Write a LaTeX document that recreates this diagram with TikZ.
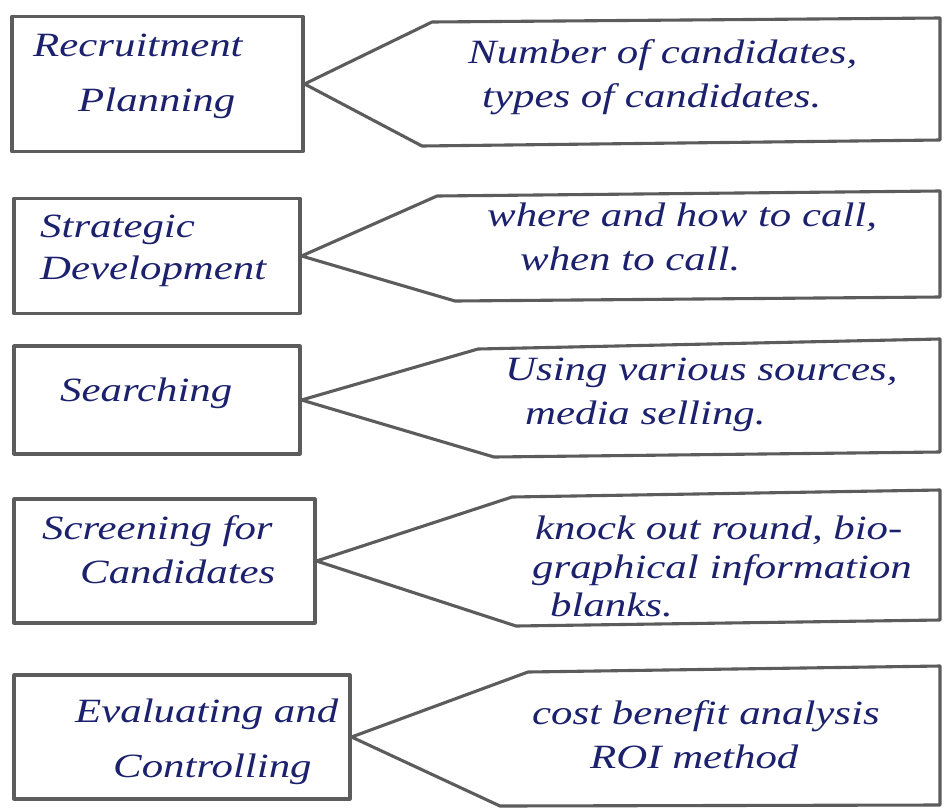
\documentclass[tikz,border=0pt]{standalone}
\usepackage{fontspec}
\newfontfamily\hand[FakeStretch=1.26]{Liberation Serif}
\begin{document}
\begin{tikzpicture}[x=1pt,y=-1pt,
  pencil/.style={draw=black!64, line width=3.1pt, line join=round, line cap=round},
  lbox/.style={pencil, inner sep=0pt},
  ink/.style={text=inkblue, font=\hand\itshape\fontsize{34}{44}\selectfont, align=left, inner sep=0pt, anchor=west},
]
\definecolor{inkblue}{HTML}{1C216E}
\useasboundingbox[fill=white] (0,0) rectangle (945,809);

% left-hand stage boxes
\node[lbox, minimum width=291pt, minimum height=135pt] (L1) at (157.5,84) {};
\node[lbox, minimum width=286pt, minimum height=115pt] (L2) at (157,256) {};
\node[lbox, minimum width=286pt, minimum height=108pt] (L3) at (157,400) {};
\node[lbox, minimum width=301pt, minimum height=124pt] (L4) at (164.5,561) {};
\node[lbox, minimum width=336pt, minimum height=124pt] (L5) at (182,737) {};

% corners of the right-hand arrow panels
\coordinate (a1) at (432,22);  \coordinate (b1) at (940,18);  \coordinate (c1) at (940,140); \coordinate (d1) at (422,146);
\coordinate (a2) at (437,196); \coordinate (b2) at (940,191); \coordinate (c2) at (940,297); \coordinate (d2) at (455,301);
\coordinate (a3) at (478,349); \coordinate (b3) at (940,339); \coordinate (c3) at (940,452); \coordinate (d3) at (494,457);
\coordinate (a4) at (512,497); \coordinate (b4) at (940,490); \coordinate (c4) at (940,620); \coordinate (d4) at (516,626);
\coordinate (a5) at (528,672); \coordinate (b5) at (940,666); \coordinate (c5) at (940,805); \coordinate (d5) at (500,806);

% panels pointing back at each box
\foreach \i in {1,...,5}
  \draw[pencil] (L\i.east) -- (a\i) -- (b\i) -- (c\i) -- (d\i) -- cycle;

% stage names
\node[ink] (T1) at (33,76) {Recruitment\\[11pt]\hspace*{45pt}Planning};
\node[ink] (T2) at (40,251) {Strategic\\[-2pt]Development};
\node[ink] (T3) at (60,393) {Searching};
\node[ink] (T4) at (42,550) {Screening for\\\hspace*{38pt}Candidates};
\node[ink] (T5) at (75,742) {Evaluating and\\[11pt]\hspace*{38pt}Controlling};

% details of each stage
\node[ink] (R1) at (468,77) {Number of candidates,\\\hspace*{14pt}types of candidates.};
\node[ink] (R2) at (487,237) {where and how to call,\\\hspace*{33pt}when to call.};
\node[ink] (R3) at (505,395) {Using various sources,\\\hspace*{20pt}media selling.};
\node[ink] (R4) at (532,566) {\hspace*{3pt}knock out round, bio-\\[-5pt]graphical information\\[-6pt]\hspace*{18pt}blanks.};
\node[ink] (R5) at (532,735) {cost benefit analysis\\\hspace*{58pt}ROI method};
\end{tikzpicture}
\end{document}
